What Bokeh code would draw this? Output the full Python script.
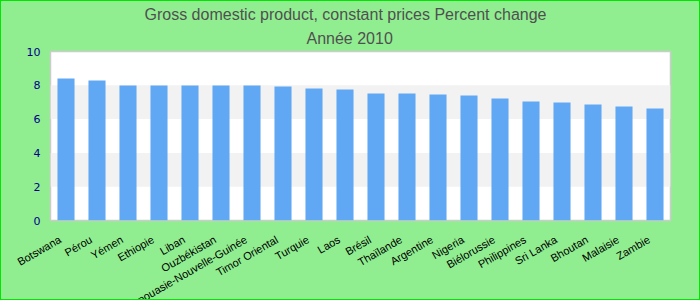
import math
from bokeh.plotting import figure
from bokeh.models import FixedTicker, ColumnDataSource, Title, Range1d, Grid
from bokeh.layouts import column
from bokeh.core.properties import value
from bokeh.embed import file_html
from bokeh.resources import INLINE

countries = ["Botswana", "Pérou", "Yémen", "Ethiopie", "Liban", "Ouzbékistan",
             "Papouasie-Nouvelle-Guinée", "Timor Oriental", "Turquie", "Laos",
             "Brésil", "Thaïlande", "Argentine", "Nigeria", "Biélorussie",
             "Philippines", "Sri Lanka", "Bhoutan", "Malaisie", "Zambie"]
growth = [8.40, 8.28, 7.99, 7.99, 7.99, 7.99, 7.99, 7.93, 7.81, 7.75,
          7.51, 7.51, 7.46, 7.40, 7.22, 7.04, 6.98, 6.86, 6.75, 6.63]
y_ticks = [0, 2, 4, 6, 8, 10]

title_line1 = "Gross domestic product, constant prices  Percent change"
title_line2 = "Année 2010"

GREEN = "#90EE90"
W, H = 698, 298            # canvas inside a 1px page border
LEFT, RIGHT = 49, 29       # frame margins
BOTTOM = 10                # room for the "0" tick label
TOP_H = 50 + 169 + BOTTOM  # height of the bar figure
n = len(countries)
step = (W - LEFT - RIGHT) / n

src = ColumnDataSource(data=dict(country=countries, growth=growth))

top = figure(x_range=countries, y_range=(0, 10), width=W, height=TOP_H,
             output_backend="svg", toolbar_location=None,
             min_border_left=LEFT, min_border_right=RIGHT,
             min_border_top=50, min_border_bottom=BOTTOM,
             background_fill_color="white", border_fill_color=GREEN)
top.frame_align = False

top.title = Title(text=title_line1, align="left", offset=94, standoff=0,
                  text_font="Liberation Sans", text_font_size="16px",
                  text_font_style="normal", text_color="#505050")
top.add_layout(Title(text=title_line2, align="left", offset=256, standoff=10,
                     text_font="Liberation Sans", text_font_size="16px",
                     text_font_style="normal", text_color="#505050"), "above")

top.vbar(x="country", top="growth", width=0.55, source=src,
         fill_color="#61a8f4", line_color=None)

top.x_range.range_padding = 0
top.outline_line_color = "#cccccc"
top.outline_line_width = 1.5

top.xgrid.grid_line_color = None
top.ygrid.grid_line_color = None
top.ygrid.band_fill_color = "#f2f2f2"
top.ygrid.band_fill_alpha = 1.0

top.yaxis.ticker = FixedTicker(ticks=y_ticks)
top.yaxis.axis_line_color = None
top.yaxis.major_tick_line_color = None
top.yaxis.minor_tick_line_color = None
top.yaxis.major_tick_out = 0
top.yaxis.major_label_standoff = 10
top.yaxis.major_label_text_color = "#00008B"
top.yaxis.major_label_text_font = "DejaVu Sans"
top.yaxis.major_label_text_font_size = "11px"
top.xaxis.visible = False

# strip under the bars holding the rotated category labels (full width, so
# long labels are not clipped on the left)
low = figure(x_range=Range1d(-LEFT / step, n + RIGHT / step),
             y_range=Range1d(-(H - TOP_H), 0),
             width=W, height=H - TOP_H, output_backend="svg",
             toolbar_location=None, x_axis_location=None, y_axis_location=None,
             min_border=0, background_fill_color=GREEN, border_fill_color=GREEN)
low.frame_align = False
low.outline_line_color = None
for g in low.select(type=Grid):
    g.visible = False
label_src = ColumnDataSource(data=dict(
    xc=[i + 0.5 for i in range(n)], country=countries))
low.text(x="xc", y=0, text="country", source=label_src,
         angle=math.pi / 6, text_align="right", text_baseline="middle",
         x_offset=-6, y_offset=18 - BOTTOM,
         text_font=value("Liberation Sans"), text_font_size="11px",
         text_color="black")

p = column(top, low, spacing=0)
p.styles = {"border": "1px solid #00e600", "background-color": GREEN}

open("out.html", "w").write(file_html(p, INLINE))
